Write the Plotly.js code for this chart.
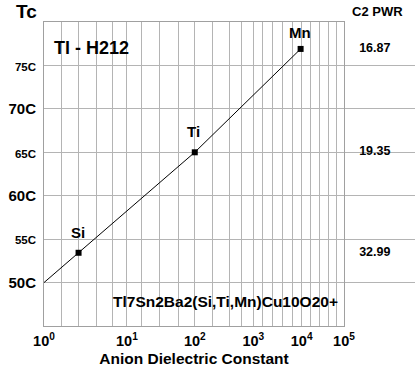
<!DOCTYPE html>
<html>
<head>
<meta charset="utf-8">
<script src="https://cdn.plot.ly/plotly-3.0.1.min.js"></script>
<style>html,body{margin:0;padding:0;background:#fff;}#chart{width:415px;height:370px;}</style>
</head>
<body>
<div id="chart"></div>
<script>
// ---- data ----
const elements = ["Si", "Ti", "Mn"];
// position along the chart's (non-uniform) dielectric axis, in decade units
const dielectricPos = [0.576, 2.513, 4.277];
const tcValues = [53.43, 65.0, 76.9];
const c2pwr = ["32.99", "19.35", "16.87"];
const lineStartPos = [0];
const lineStartTc = [50];
const xTickLabels = ["10<sup>0</sup>", "10<sup>1</sup>", "10<sup>2</sup>", "10<sup>3</sup>", "10<sup>4</sup>", "10<sup>5</sup>"];
const yTickVals = [50, 55, 60, 65, 70, 75];
const yTickLabels = ["50C", "55C", "60C", "65C", "70C", "75C"];

// ---- axis layout (positions of decades / minor grid on the drawn scale) ----
const decadeTickPos = [0, 1.382, 2.513, 3.489, 4.294, 5];
const minorGridPos = [0.287, 0.581, 0.871, 1.139, 1.628, 1.928, 2.245, 2.813, 3.097, 3.292,
                      3.639, 3.81, 3.982, 4.14, 4.444, 4.591, 4.749, 4.878];
const labelShift = [20, 21, 16];
const rightColumnPos = 0.43;

const FONT = "Arial, 'Liberation Sans', sans-serif";
const gridCol = "#b4b4b4";
const mainDomain = [0, 0.8086];

const yTickText = yTickLabels.map((t, i) => (yTickVals[i] % 10 === 0) ? "<b>" + t + "</b>" : '<b><span style="font-size:11.5px">' + t + '</span></b>');
const xTickText = xTickLabels.map(t => "<b>" + t + "</b>");

const traces = [
  {
    x: lineStartPos.concat(dielectricPos),
    y: lineStartTc.concat(tcValues),
    mode: "lines",
    line: {color: "#000", width: 1},
    hoverinfo: "skip"
  },
  {
    x: dielectricPos,
    y: tcValues,
    mode: "markers",
    marker: {symbol: "square", size: 6, color: "#000"},
    cliponaxis: false,
    hoverinfo: "skip"
  },
  {
    x: dielectricPos.map(() => rightColumnPos),
    y: tcValues,
    xaxis: "x2", yaxis: "y",
    mode: "text",
    text: c2pwr.map(v => "<b>" + v + "</b>"),
    textposition: "middle center",
    textfont: {family: FONT, size: 12.5, color: "#000"},
    cliponaxis: false,
    hoverinfo: "skip"
  }
];

const annotations = elements.map((el, i) => ({
  x: dielectricPos[i], y: tcValues[i], xref: "x", yref: "y", text: "<b>" + el + "</b>",
  showarrow: false, yshift: labelShift[i], xshift: -1, font: {family: FONT, size: 15, color: "#000"}
}));
annotations.push({x: 0.8976, y: 1.033, xref: "paper", yref: "paper", xanchor: "center", yanchor: "middle", text: "<b>C2 PWR</b>",
  showarrow: false, font: {family: FONT, size: 13, color: "#000"}});
annotations.push({x: -0.0485, y: 1.035, xref: "paper", yref: "paper", xanchor: "center", yanchor: "middle", text: "<b>Tc</b>",
  showarrow: false, font: {family: FONT, size: 19, color: "#000"}});
annotations.push({x: 0.0216, y: 0.915, xref: "paper", yref: "paper", xanchor: "left", yanchor: "middle", text: "<b>Tl - H212</b>",
  showarrow: false, font: {family: FONT, size: 18, color: "#000"}});
annotations.push({x: 0.798, y: 0.082, xref: "paper", yref: "paper", xanchor: "right", yanchor: "middle", text: "<b>Tl7Sn2Ba2(Si,Ti,Mn)Cu10O20+</b>",
  showarrow: false, font: {family: FONT, size: 15.5, color: "#000"}});

const layout = {
  width: 415, height: 370,
  margin: {l: 44, r: 0, t: 22, b: 44, pad: 0},
  paper_bgcolor: "#fff", plot_bgcolor: "#fff",
  showlegend: false,
  font: {family: FONT, color: "#000"},
  xaxis: {
    domain: mainDomain,
    range: [0, 5], tickmode: "array", tickvals: decadeTickPos, ticktext: xTickText,
    tickfont: {family: FONT, size: 14.5, color: "#000"},
    showgrid: true, gridcolor: gridCol, gridwidth: 1,
    minor: {tickmode: "array", tickvals: minorGridPos, showgrid: true, gridcolor: gridCol, gridwidth: 1, ticks: ""},
    showline: true, mirror: true, linecolor: "#a0a0a0", linewidth: 1,
    zeroline: false, ticks: "", ticklabelstandoff: 2,
    title: {text: "<b>Anion Dielectric Constant</b>", font: {family: FONT, size: 15.5, color: "#000"}, standoff: 4},
    fixedrange: true
  },
  xaxis2: {
    domain: [0.81, 1], range: [0, 1], anchor: "y",
    visible: false, showgrid: false, zeroline: false, fixedrange: true
  },
  yaxis: {
    range: [45, 80], tickmode: "array", tickvals: yTickVals, ticktext: yTickText,
    tickfont: {family: FONT, size: 15, color: "#000"},
    showgrid: true, gridcolor: gridCol, gridwidth: 1,
    showline: true, mirror: true, linecolor: "#a0a0a0", linewidth: 1,
    zeroline: false, ticks: "", ticklabelstandoff: 4,
    fixedrange: true
  },
  annotations: annotations
};

Plotly.newPlot("chart", traces, layout, {displayModeBar: false, staticPlot: true});
</script>
</body>
</html>
